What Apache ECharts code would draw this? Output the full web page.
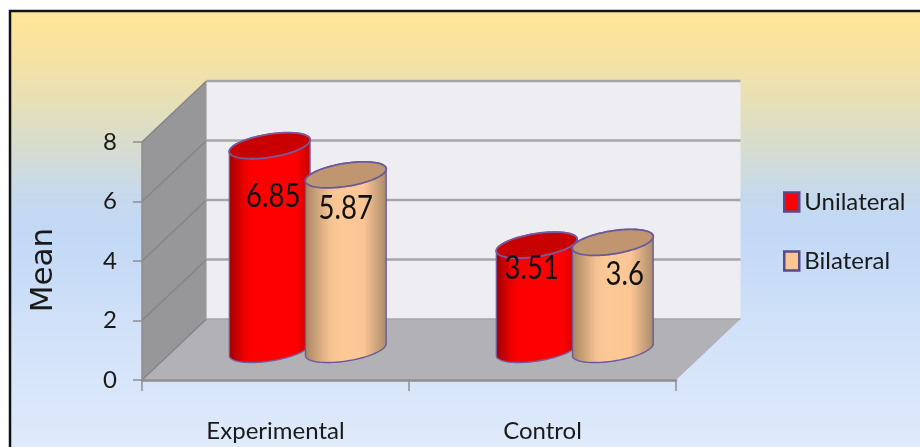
<!DOCTYPE html>
<html>
<head>
<meta charset="utf-8">
<style>html,body{margin:0;padding:0;background:#fff}#chart{width:920px;height:447px}</style>
<script src="https://cdn.jsdelivr.net/npm/echarts@6/dist/echarts.min.js"></script>
</head>
<body>
<div id="chart"></div>
<script>
// Mean scores by group and lesion side
const categories = ['Experimental', 'Control'];
const unilateral = [6.85, 3.51];
const bilateral = [5.87, 3.6];
const yTicks = [0, 2, 4, 6, 8];
const yMax = 8;

// Projection of the box: how far the back wall sits from the front plane
const DEPTH_X = 64.5, DEPTH_Y = -61;
const BAND_BAR_WIDTH = 0.303, BAND_BAR_STEP = 0.285;
const LABEL_FONT = 'Lato, "Liberation Sans", sans-serif';

const skins = {
  Unilateral: {
    stops: [[0, '#9c0000'], [0.2, '#f00000'], [0.3, '#ff0000'], [0.82, '#ff0000'], [1, '#c00000']],
    top: '#c80000', stroke: '#7a5a9a', swatch: '#ff0000', shift: -0.5,
    labelOffset: [[3.5, 51], [-5, 24]]
  },
  Bilateral: {
    stops: [[0, '#a68560'], [0.3, '#f4c293'], [0.45, '#ffc996'], [0.72, '#fcc595'], [1, '#a88a68']],
    top: '#c09670', stroke: '#6a5a9c', swatch: '#fcc595', shift: 0.5,
    labelOffset: [[0, 33.5], [12, 32]]
  }
};

function ellipsePoint(cx, cy, a, b, tilt, t) {
  const x = a * Math.cos(t), y = b * Math.sin(t);
  return [cx + x * Math.cos(tilt) + y * Math.sin(tilt), cy - x * Math.sin(tilt) + y * Math.cos(tilt)];
}

function renderCylinder(name) {
  const skin = skins[name];
  return function (params, api) {
    const cat = api.value(0), value = api.value(1);
    const band = api.size([1, 0])[0];
    const top = api.coord([cat, value]);
    const base = api.coord([cat, 0]);
    const w = band * BAND_BAR_WIDTH;
    const cx = top[0] + skin.shift * band * BAND_BAR_STEP + DEPTH_X / 2;
    const topY = top[1] + DEPTH_Y / 2, baseY = base[1] + DEPTH_Y / 2;
    const a = w / 2 + 0.5, b = 11.5, tilt = 9 * Math.PI / 180;
    // Parameter of the silhouette point on the rotated ellipse
    const t0 = Math.atan2(-b * Math.sin(tilt), a * Math.cos(tilt));
    const body = [], cap = [];
    const N = 48;
    for (let i = 0; i <= N; i++) {
      // lower half of the base, right silhouette point to left one
      body.push(ellipsePoint(cx, baseY, a, b, tilt, t0 + Math.PI * i / N));
    }
    for (let i = 0; i <= N; i++) {
      body.push(ellipsePoint(cx, topY, a, b, tilt, t0 + Math.PI + Math.PI * i / N));
    }
    for (let i = 0; i < N * 2; i++) {
      cap.push(ellipsePoint(cx, topY, a, b, tilt, Math.PI * i / N));
    }
    const off = skin.labelOffset[cat];
    return {
      type: 'group',
      children: [
        {
          type: 'polygon', shape: { points: body },
          style: {
            fill: new echarts.graphic.LinearGradient(0, 0, 1, 0,
              skin.stops.map(s => ({ offset: s[0], color: s[1] }))),
            stroke: skin.stroke, lineWidth: 1.4
          }
        },
        {
          type: 'polygon', shape: { points: cap },
          style: { fill: skin.top, stroke: skin.stroke, lineWidth: 1.8 }
        },
        {
          type: 'text', z2: 10,
          x: cx + off[0], y: topY + off[1], scaleX: 0.86,
          style: {
            text: String(value),
            fill: '#111', font: '32px ' + LABEL_FONT,
            textAlign: 'center', textVerticalAlign: 'middle'
          }
        }
      ]
    };
  };
}

// Side wall, back wall and floor of the box
function renderWalls(params, api) {
  const c = params.coordSys;
  const yTop = api.coord([0, yMax])[1], yBase = api.coord([0, 0])[1];
  const xL = c.x, xR = c.x + c.width;
  return {
    type: 'group',
    children: [
      { type: 'polygon', shape: { points: [[xL + DEPTH_X, yTop + DEPTH_Y], [xR + DEPTH_X, yTop + DEPTH_Y], [xR + DEPTH_X, yBase + DEPTH_Y], [xL + DEPTH_X, yBase + DEPTH_Y]] }, style: { fill: '#eeedf2' } },
      { type: 'polygon', shape: { points: [[xL, yTop], [xL + DEPTH_X, yTop + DEPTH_Y], [xL + DEPTH_X, yBase + DEPTH_Y], [xL, yBase]] }, style: { fill: '#979699' } },
      { type: 'polygon', shape: { points: [[xL, yBase], [xL + DEPTH_X, yBase + DEPTH_Y], [xR + DEPTH_X, yBase + DEPTH_Y], [xR, yBase]] }, style: { fill: '#b2b1b6' } }
    ]
  };
}

// One gridline per tick, running along the side wall and the back wall
function renderGridline(params, api) {
  const c = params.coordSys;
  const y = api.coord([0, api.value(0)])[1];
  const xL = c.x, xR = c.x + c.width;
  const isBase = api.value(0) === 0;
  return {
    type: 'group',
    children: [
      { type: 'line', shape: { x1: xL, y1: y, x2: xL + DEPTH_X, y2: y + DEPTH_Y }, style: { stroke: '#858487', lineWidth: 1.5 } },
      { type: 'line', shape: { x1: xL + DEPTH_X, y1: y + DEPTH_Y, x2: xR + DEPTH_X, y2: y + DEPTH_Y }, style: { stroke: isBase ? '#a5a4a8' : '#a6a6a8', lineWidth: isBase ? 1.5 : 2.5 } }
    ]
  };
}

const toPairs = arr => arr.map((v, i) => [i, v]);

const chart = echarts.init(document.getElementById('chart'), null, { renderer: 'canvas' });
chart.setOption({
  animation: false,
  graphic: [{
    type: 'rect', z: -10,
    shape: { x: 10, y: 11, width: 930, height: 460 },
    style: {
      stroke: '#111', lineWidth: 2.5,
      fill: new echarts.graphic.LinearGradient(0, 0, 0, 1, [
        { offset: 0, color: '#ffe696' },
        { offset: 0.1, color: '#f6e3a2' },
        { offset: 0.2, color: '#e6e0b6' },
        { offset: 0.3, color: '#d6dcd0' },
        { offset: 0.4, color: '#c6d9ec' },
        { offset: 0.48, color: '#c2d8f5' },
        { offset: 0.7, color: '#d2e2f9' },
        { offset: 1, color: '#e2ecfb' }
      ])
    }
  }],
  grid: { left: 142, right: 244, top: 142, bottom: 67 },
  xAxis: {
    type: 'category', data: categories, z: 5,
    axisLine: { lineStyle: { color: '#8e8e90', width: 2.5 } },
    axisTick: { show: true, length: 11, alignWithLabel: false, lineStyle: { color: '#8e8e90', width: 1.5 } },
    axisLabel: { margin: 39, color: '#1a1a1a', fontSize: 24, fontFamily: LABEL_FONT }
  },
  yAxis: {
    type: 'value', min: 0, max: yMax, interval: 2, z: 5,
    name: 'Mean', nameLocation: 'middle', nameGap: 83, nameRotate: 90,
    nameTextStyle: { fontSize: 31, fontFamily: '"DejaVu Sans"', color: '#1a1a1a', padding: [0, 18, 0, 0] },
    axisLine: { show: true, lineStyle: { color: '#8e8e90', width: 1.5 } },
    axisTick: { show: true, length: 9, lineStyle: { color: '#8e8e90', width: 1.5 } },
    axisLabel: { margin: 25, color: '#1a1a1a', fontSize: 24, fontFamily: LABEL_FONT },
    splitLine: { show: false }
  },
  legend: {
    orient: 'vertical', left: 778, top: 185, itemWidth: 15, itemHeight: 19, itemGap: 35,
    textStyle: { fontSize: 24, fontFamily: LABEL_FONT, color: '#1a1a1a' },
    selectedMode: false,
    data: ['Unilateral', 'Bilateral'].map(name => ({
      name, icon: 'rect',
      itemStyle: { color: skins[name].swatch, borderColor: '#5b4a8a', borderWidth: 2.5 }
    }))
  },
  tooltip: { show: false },
  series: [
    { type: 'custom', name: 'walls', silent: true, z: 1, data: [[0]], renderItem: renderWalls, encode: { y: 0 } },
    { type: 'custom', name: 'gridlines', silent: true, z: 1, data: yTicks.map(v => [v]), renderItem: renderGridline, encode: { y: 0 } },
    { type: 'custom', name: 'Unilateral', z: 3, data: toPairs(unilateral), renderItem: renderCylinder('Unilateral'), encode: { x: 0, y: 1 } },
    { type: 'custom', name: 'Bilateral', z: 4, data: toPairs(bilateral), renderItem: renderCylinder('Bilateral'), encode: { x: 0, y: 1 } }
  ]
});
</script>
</body>
</html>
